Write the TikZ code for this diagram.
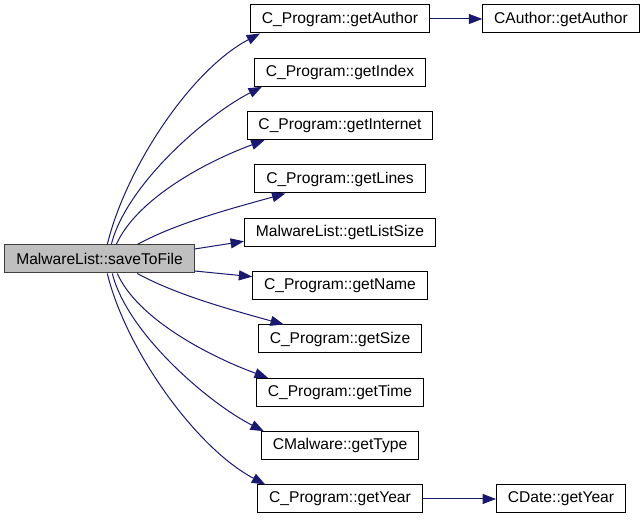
\documentclass[tikz,border=0pt]{standalone}
\usepackage{fontspec}
\setmainfont{Liberation Sans}
\usetikzlibrary{arrows.meta,calc}
\definecolor{edgeblue}{HTML}{191970}
\definecolor{hlgrey}{HTML}{BFBFBF}
\tikzset{
  fn/.style={draw=black, line width=0.75pt, fill=white, inner xsep=8.6pt, inner ysep=0pt,
    minimum height=21pt, font=\fontsize{11.7pt}{13pt}\selectfont, anchor=center},
  cur/.style={fn, fill=hlgrey, draw=black!75},
  call/.style={draw=edgeblue, line width=0.75pt, -{Triangle[length=10pt,width=7.5pt]}, shorten >=0pt}
}
\begin{document}
\begin{tikzpicture}[x=0.75pt,y=-0.75pt]
\useasboundingbox (0,0) rectangle (644,520);
\node[cur] (s) at (99.5,259) {MalwareList::saveToFile};
\node[fn] (a) at (340,19) {C\_Program::getAuthor};
\node[fn] (ca) at (561,19) {CAuthor::getAuthor};
\node[fn] (i) at (340,72.3) {C\_Program::getIndex};
\node[fn] (n) at (340,125.7) {C\_Program::getInternet};
\node[fn] (l) at (340,179) {C\_Program::getLines};
\node[fn] (ls) at (340,232.3) {MalwareList::getListSize};
\node[fn] (nm) at (340,285.7) {C\_Program::getName};
\node[fn] (sz) at (340,339) {C\_Program::getSize};
\node[fn] (t) at (340,392.3) {C\_Program::getTime};
\node[fn] (ty) at (340,445.7) {CMalware::getType};
\node[fn] (y) at (340,499) {C\_Program::getYear};
\node[fn] (cd) at (561,499) {CDate::getYear};

\draw[call] ($(s.north west)+(103,0)$) .. controls +(18,-75) and +(-70,37) .. ($(a.south west)+(10,0)$);
\draw[call] ($(s.north west)+(107,0)$) .. controls +(15,-60) and +(-55,28) .. ($(i.south west)+(8,0)$);
\draw[call] ($(s.north west)+(112,0)$) .. controls +(20,-45) and +(-60,22) .. ($(n.south west)+(18,0)$);
\draw[call] ($(s.north west)+(133,0)$) .. controls +(40,-22) and +(-50,14) .. ($(l.south west)+(31,0)$);
\draw[call] ($(s.east)+(0,-10)$) -- ($(ls.west)+(0,9)$);
\draw[call] ($(s.east)+(0,12)$) -- ($(nm.west)+(0,-9)$);
\draw[call] ($(s.south west)+(133,0)$) .. controls +(40,22) and +(-50,-14) .. ($(sz.north west)+(26,0)$);
\draw[call] ($(s.south west)+(113,0)$) .. controls +(20,45) and +(-60,-22) .. ($(t.north west)+(12,0)$);
\draw[call] ($(s.south west)+(108,0)$) .. controls +(15,60) and +(-55,-28) .. ($(ty.north west)+(3,0)$);
\draw[call] ($(s.south west)+(103,0)$) .. controls +(18,75) and +(-70,-37) .. ($(y.north west)+(8,0)$);
\draw[call] (a) -- (ca);
\draw[call] (y) -- (cd);
\end{tikzpicture}
\end{document}
